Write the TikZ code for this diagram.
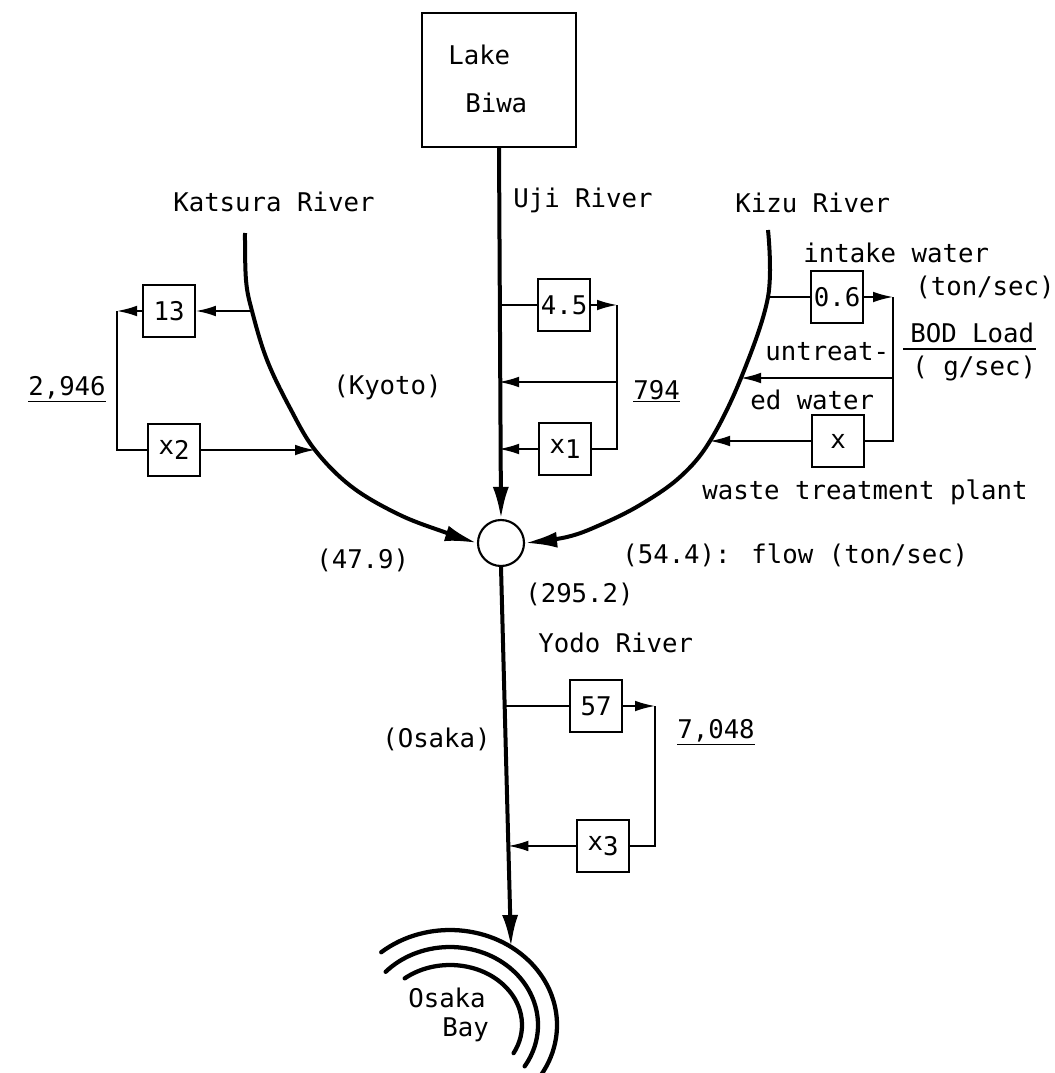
\documentclass[tikz,border=0pt]{standalone}
\usepackage{fontspec}
\newfontfamily\monof{DejaVu Sans Mono}
\usetikzlibrary{arrows.meta}
\begin{document}
\begin{tikzpicture}[x=0.75pt,y=-0.75pt,
  every node/.style={font=\monof\fontsize{19.3}{23}\selectfont, inner sep=0pt},
  lbl/.style={anchor=west},
  thinline/.style={line width=1.3pt},
  flow/.style={line width=1.3pt,-{Latex[length=15pt,width=8pt]}},
  rarrow/.style={line width=3pt,-{Latex[length=24pt,width=12pt]}},
  valbox/.style={draw,line width=1.3pt,minimum width=39pt,minimum height=39pt},
  bay/.style={line width=3.2pt,line cap=round}]
\useasboundingbox (0,0) rectangle (1055,1073);

% ---- main nodes
\node[draw,line width=1.3pt,minimum width=115.5pt,minimum height=100.5pt] (lake) at (499,80) {};
\node[lbl] (lakeT) at (448,55) {Lake};
\node[lbl] (biwaT) at (465,103) {Biwa};
\node[draw,circle,line width=1.6pt,minimum size=34.5pt] (junc) at (501,543) {};

\node[valbox] (b13) at (169,311) {13};
\node[valbox] (bx2) at (174,450) {x\raisebox{-.4ex}{2}};
\node[valbox] (b45) at (564,305) {4.5};
\node[valbox] (bx1) at (565,449) {x\raisebox{-.4ex}{1}};
\node[valbox] (b06) at (837,297) {0.6};
\node[valbox] (bx)  at (838,441) {x};
\node[valbox] (b57) at (596,706) {57};
\node[valbox] (bx3) at (603,846) {x\raisebox{-.4ex}{3}};

% ---- coordinates on rivers / corners
\coordinate (k13) at (252,311);
\coordinate (kx2) at (315,450);
\coordinate (ck1) at (117,311);
\coordinate (ck2) at (117,450);
\coordinate (kz1) at (768,297);
\coordinate (kz2) at (741,378);
\coordinate (kz3) at (710,441);
\coordinate (cz1) at (893,297);
\coordinate (czm) at (893,378);
\coordinate (cz2) at (893,441);
\coordinate (c45) at (617,305);
\coordinate (c794) at (617,382);
\coordinate (c45b) at (617,449);
\coordinate (u45) at (b45.west -| lake.south);
\coordinate (u794) at (c794 -| lake.south);
\coordinate (ux1) at (bx1.west -| lake.south);
\coordinate (bayP) at (511,947);
\coordinate (y57) at (intersection of junc.south--bayP and b57.west--b57.east);
\coordinate (yx3) at (intersection of junc.south--bayP and bx3.west--bx3.east);
\coordinate (c57) at (655,706);
\coordinate (c57b) at (655,846);
\coordinate (bayC) at (450,1025);

% ---- rivers
\draw[rarrow] (lake.south) -- (junc.north);
\draw[rarrow] plot[smooth,tension=0.6] coordinates {(245,233) (246,280) (k13) (267,360) (290,408) (kx2) (352,487) (400,515) (447,533) (junc.west)};
\draw[rarrow] plot[smooth,tension=0.6] coordinates {(768,230) (kz1) (kz2) (kz3) (680,477) (640,505) (600,525) (567,537) (junc.east)};
\draw[rarrow] (junc.south) -- (bayP);

% ---- Osaka Bay
\draw[bay] (bayC) ++(230:107 and 95) arc[start angle=230, end angle=391, x radius=107, y radius=95];
\draw[bay] (bayC) ++(223:88 and 78) arc[start angle=223, end angle=392, x radius=88, y radius=78];
\draw[bay] (bayC) ++(231:72 and 60) arc[start angle=231, end angle=388, x radius=72, y radius=60];

% ---- Katsura connectors
\draw[flow] (k13) -- (b13.east);
\draw[flow] (b13.west) -- (ck1);
\draw[thinline] (ck1) -- (ck2) -- (bx2.west);
\draw[flow] (bx2.east) -- (kx2);

% ---- Uji connectors
\draw[thinline] (u45) -- (b45.west);
\draw[flow] (b45.east) -- (c45);
\draw[thinline] (c45) -- (c45b) -- (bx1.east);
\draw[flow] (bx1.west) -- (ux1);
\draw[flow] (c794) -- (u794);

% ---- Kizu connectors
\draw[thinline] (kz1) -- (b06.west);
\draw[flow] (b06.east) -- (cz1);
\draw[thinline] (cz1) -- (cz2) -- (bx.east);
\draw[flow] (bx.west) -- (kz3);
\draw[flow] (czm) -- (kz2);

% ---- Yodo connectors
\draw[thinline] (y57) -- (b57.west);
\draw[flow] (b57.east) -- (c57);
\draw[thinline] (c57) -- (c57b) -- (bx3.east);
\draw[flow] (bx3.west) -- (yx3);

% ---- labels
\node[lbl] (tKat) at (173,202) {Katsura River};
\node[lbl] (tUji) at (513,200) {Uji River};
\node[lbl] (tKiz) at (735,203) {Kizu River};
\node[lbl] (tInt) at (803,253) {intake water};
\node[lbl] (tTon) at (915,287) {(ton/sec)};
\node[lbl] (tBod) at (910,333) {BOD Load};
\node[lbl] (tGs)  at (912,368) {( g/sec)};
\coordinate (fracL) at (903,349);
\coordinate (fracR) at (1036,349);
\draw[thinline] (fracL) -- (fracR);
\node[lbl] (tUnt) at (765,352) {untreat-};
\node[lbl] (tEdw) at (750,400) {ed water};
\node[lbl] (tWas) at (702,492) {waste treatment plant};
\node[lbl] (tKyo) at (333,387) {(Kyoto)};
\node[lbl] (t2946) at (28,389) {\underline{2,946}};
\node[lbl] (t794) at (633,391) {\underline{794}};
\node[lbl] (t7048) at (677,732) {\underline{7,048}};
\node[lbl] (t479) at (316,560) {(47.9)};
\node[lbl] (t544) at (622,555) {(54.4): flow (ton/sec)};
\node[lbl] (t2952) at (525,594) {(295.2)};
\node[lbl] (tYodo) at (538,643) {Yodo River};
\node[lbl] (tOsk) at (382,739) {(Osaka)};
\node[lbl] (tOB1) at (408,998) {Osaka};
\node[lbl] (tOB2) at (442,1030) {Bay};
\end{tikzpicture}
\end{document}
